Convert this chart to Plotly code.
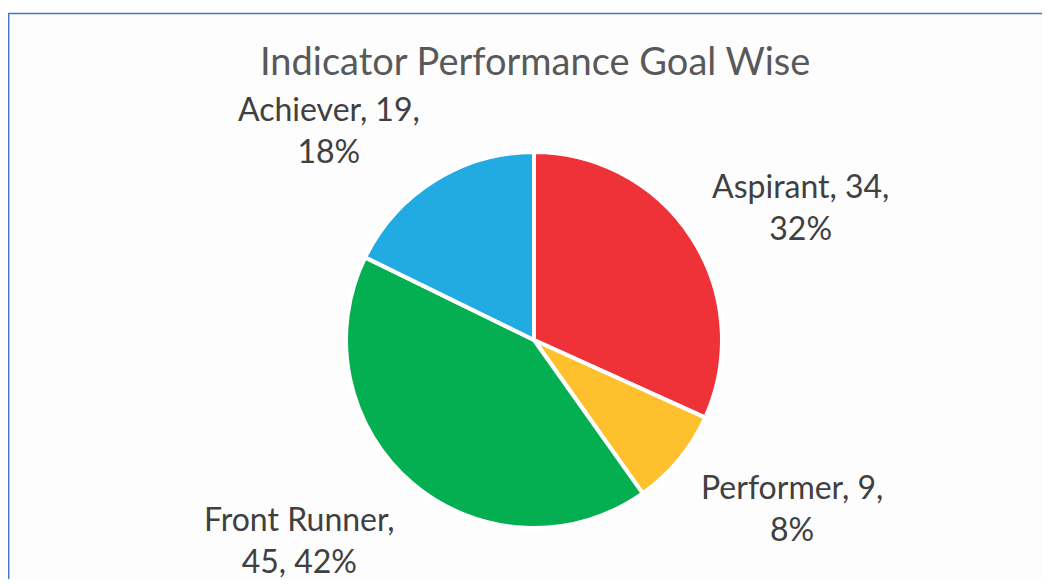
import plotly.graph_objects as go

labels = ["Aspirant", "Performer", "Front Runner", "Achiever"]
values = [34, 9, 45, 19]
colors = ["#EE3237", "#FFC02D", "#03AF50", "#22ABE2"]
title_text = "Indicator Performance Goal Wise"

# page body has an 8px default margin -> figure sized to fit the 1050x587 window
OFF = 8
W, H = 1050 - 2 * OFF, 587 - 2 * OFF
total = sum(values)
pcts = [round(v * 100 / total) for v in values]

label_texts = [
    f"{labels[0]}, {values[0]},<br>{pcts[0]}%",
    f"{labels[1]}, {values[1]},<br>{pcts[1]}%",
    f"{labels[2]},<br>{values[2]}, {pcts[2]}%",
    f"{labels[3]}, {values[3]},<br>{pcts[3]}%",
]
# label centres in window pixels
label_pos = [(800, 206), (792, 507), (299, 539), (329, 129)]


def px_x(x):
    return (x - OFF) / W


def px_y(y):
    return 1 - (y - OFF) / H


cx, cy, r = 534, 340, 188

fig = go.Figure(go.Pie(
    labels=labels,
    values=values,
    sort=False,
    direction="clockwise",
    rotation=0,
    marker=dict(colors=colors, line=dict(color="white", width=4)),
    textinfo="none",
    hoverinfo="label+value+percent",
    showlegend=False,
    domain=dict(x=[px_x(cx - r), px_x(cx + r)], y=[px_y(cy + r), px_y(cy - r)]),
))

FONT = "Lato"
ann = [dict(
    text=title_text, x=px_x(535), y=px_y(60), xref="paper", yref="paper",
    xanchor="center", yanchor="middle", showarrow=False,
    font=dict(family=FONT, size=38, color="#595959"),
)]
for t, (lx, ly) in zip(label_texts, label_pos):
    ann.append(dict(
        text=t, x=px_x(lx), y=px_y(ly), xref="paper", yref="paper",
        xanchor="center", yanchor="middle", align="center", showarrow=False,
        font=dict(family=FONT, size=32, color="#404040"),
    ))

fig.update_layout(
    width=W, height=H,
    margin=dict(l=0, r=0, t=0, b=0),
    paper_bgcolor="white",
    plot_bgcolor="white",
    annotations=ann,
    shapes=[dict(
        type="rect", xref="paper", yref="paper", layer="below",
        x0=px_x(8.7), x1=1.05, y0=-0.05, y1=px_y(13.5),
        line=dict(color="#4A76C0", width=1.5), fillcolor="#FDFDFD",
    )],
)

fig.write_html("out.html")
